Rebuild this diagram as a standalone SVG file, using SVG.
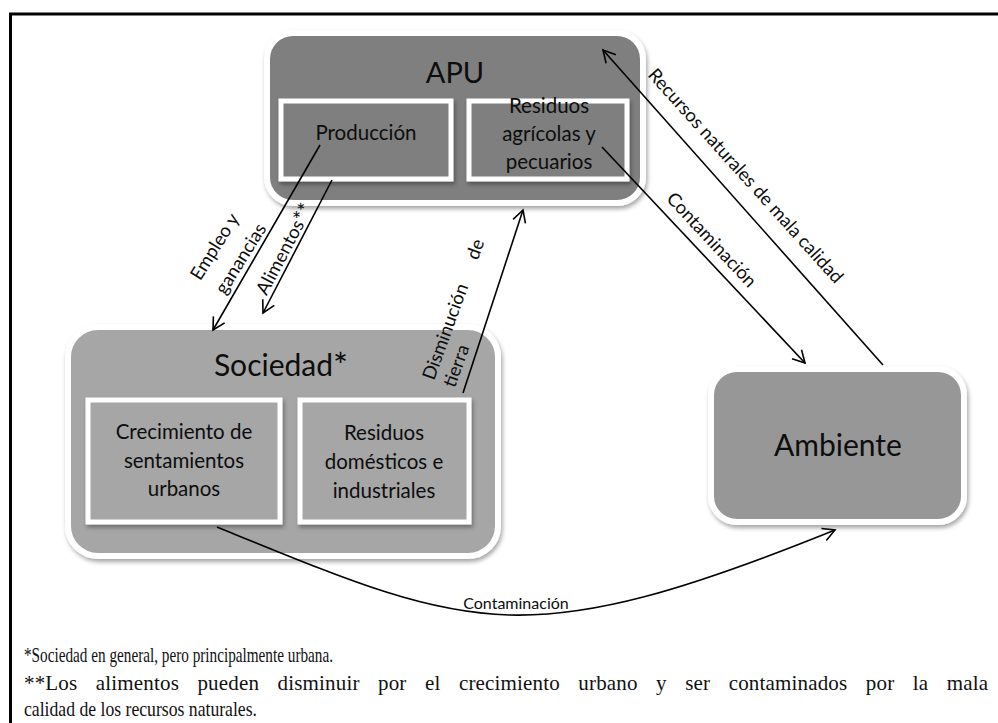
<svg xmlns="http://www.w3.org/2000/svg" width="998" height="723" viewBox="0 0 998 723">
  <defs>
    <filter id="shadow" x="-10%" y="-10%" width="125%" height="130%">
      <feDropShadow dx="1.5" dy="3" stdDeviation="2" flood-color="#000" flood-opacity="0.35"/>
    </filter>
    <marker id="arrow" markerUnits="userSpaceOnUse" markerWidth="16" markerHeight="16" viewBox="0 0 16 16" refX="14" refY="8" orient="auto">
      <path d="M2,1.5 L14,8 L2,14.5" fill="none" stroke="#000" stroke-width="1.6"/>
    </marker>
    <style>
      .outer { stroke: #fff; stroke-width: 6; filter: url(#shadow); }
      .inner { stroke: #fff; stroke-width: 5; filter: url(#shadow); }
      .dark { fill: #7f7f7f; }
      .light { fill: #a6a6a6; }
      .mid { fill: #979797; }
      .label { font-family: Lato, "Open Sans", "Liberation Sans", sans-serif; fill: #0d0d0d; text-anchor: middle; }
      .title { font-size: 30px; }
      .box { font-size: 20.5px; }
      .edge { font-size: 18.5px; }
      .star { font-size: 1.18em; }
      .conn { fill: none; stroke: #000; stroke-width: 1.6; marker-end: url(#arrow); }
      .note { font-family: "Liberation Serif", "Times New Roman", serif; font-size: 21px; fill: #111; }
    </style>
  </defs>

  <!-- page frame (left and top rules) -->
  <path d="M10.5,723 V14 H998" fill="none" stroke="#000" stroke-width="3"/>

  <!-- APU -->
  <g id="apu">
    <rect class="outer dark" x="267" y="33" width="376" height="170" rx="26"/>
    <text class="label" x="455" y="83" font-size="29">APU</text>
  </g>
  <g id="produccion">
    <rect class="inner dark" x="281" y="101" width="170" height="78"/>
    <text class="label box" x="366" y="140">Producción</text>
  </g>
  <g id="residuos-agricolas">
    <rect class="inner dark" x="469" y="101" width="158" height="78"/>
    <text class="label box" x="549" y="113">Residuos</text>
    <text class="label box" x="549" y="141">agrícolas y</text>
    <text class="label box" x="549" y="169">pecuarios</text>
  </g>

  <!-- Sociedad -->
  <g id="sociedad">
    <rect class="outer light" x="68" y="327" width="430" height="229" rx="30"/>
    <text class="label title" x="281" y="376">Sociedad<tspan class="star" dy="2">*</tspan></text>
  </g>
  <g id="crecimiento">
    <rect class="inner light" x="88" y="400" width="192" height="122"/>
    <text class="label box" x="184" y="439">Crecimiento de</text>
    <text class="label box" x="184" y="468">sentamientos</text>
    <text class="label box" x="184" y="496">urbanos</text>
  </g>
  <g id="residuos-domesticos">
    <rect class="inner light" x="300" y="400" width="169" height="122"/>
    <text class="label box" x="384" y="440">Residuos</text>
    <text class="label box" x="384" y="469">domésticos e</text>
    <text class="label box" x="384" y="498">industriales</text>
  </g>

  <!-- Ambiente -->
  <g id="ambiente">
    <rect class="outer mid" x="711" y="369" width="253" height="153" rx="26"/>
    <text class="label title" x="838" y="456">Ambiente</text>
  </g>

  <!-- connectors -->
  <g id="connectors">
    <path class="conn" d="M320,145 L213,330"/>
    <path class="conn" d="M332,180 L263,313"/>
    <path class="conn" d="M463,393 L523,210"/>
    <path class="conn" d="M602,147 L805,363"/>
    <path class="conn" d="M883,365 L603,50"/>
    <path class="conn" d="M217,527 C470,630 520,657 835,530"/>

    <text class="label edge" transform="translate(220,250) rotate(-58)">Empleo y</text>
    <text class="label edge" transform="translate(246,262) rotate(-58)">ganancias</text>
    <text class="label edge" transform="translate(290,252) rotate(-62)">Alimentos<tspan class="star" dy="1">**</tspan></text>
    <g transform="translate(434,381) rotate(-70)">
      <text class="label edge" x="0" y="0" style="text-anchor:start">Disminución</text>
      <text class="label edge" x="128" y="0" style="text-anchor:start">de</text>
      <text class="label edge" x="0" y="22" style="text-anchor:start">tierra</text>
    </g>
    <text class="label edge" transform="translate(707,244) rotate(47)">Contaminación</text>
    <text class="label edge" transform="translate(741,180) rotate(48)">Recursos naturales de mala calidad</text>
    <text class="label" x="516" y="609" font-size="16">Contaminación</text>
  </g>

  <!-- footnotes -->
  <g id="notes">
    <text class="note" x="24" y="662" textLength="309" lengthAdjust="spacingAndGlyphs">*Sociedad en general, pero principalmente urbana.</text>
    <text class="note" x="24" y="690" word-spacing="13" textLength="964" lengthAdjust="spacing">**Los alimentos pueden disminuir por el crecimiento urbano y ser contaminados por la mala</text>
    <text class="note" x="24" y="716" textLength="233" lengthAdjust="spacingAndGlyphs">calidad de los recursos naturales.</text>
  </g>
</svg>
